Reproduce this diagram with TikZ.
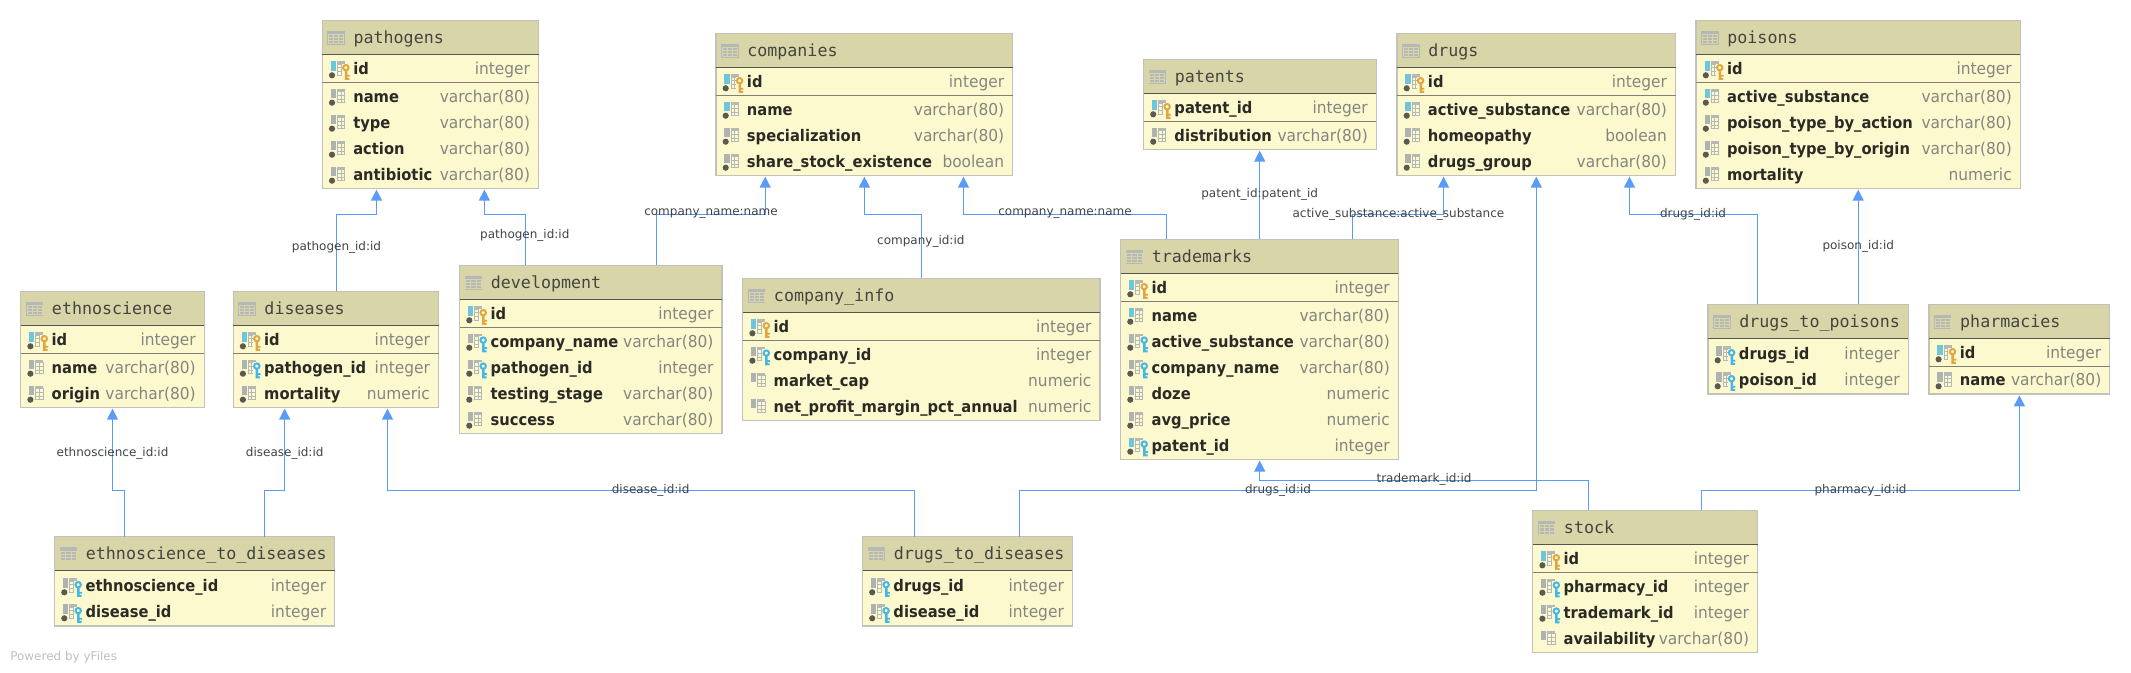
\documentclass[tikz,border=0pt]{standalone}
\usepackage{fontspec}
\setmainfont{DejaVu Sans}
\newfontfamily\titlemono{DejaVu Sans Mono}
\newfontfamily\colnamefont[FakeStretch=0.92]{DejaVu Sans}
\newfontfamily\coltypefont[FakeStretch=0.94]{DejaVu Sans}
\usetikzlibrary{arrows.meta,calc}

\definecolor{tablehead}{HTML}{D8D5A9}
\definecolor{tablebody}{HTML}{FCF9CF}
\definecolor{tableedge}{HTML}{C2C2BA}
\definecolor{headrule}{HTML}{55554F}
\definecolor{keyrule}{HTML}{808078}
\definecolor{fkblue}{HTML}{5A9BF8}
\definecolor{typegray}{HTML}{858580}
\definecolor{namedark}{HTML}{2B2B26}
\definecolor{titlegray}{HTML}{45453F}
\definecolor{labelgray}{HTML}{3F4448}
\definecolor{barcyan}{HTML}{6FC6DC}
\definecolor{bargray}{HTML}{AEB2B0}
\definecolor{dotgray}{HTML}{5C5A50}
\definecolor{keyorange}{HTML}{E0A642}
\definecolor{keycyan}{HTML}{45B6E6}
\definecolor{gridgray}{HTML}{B4B9B8}

\newcommand{\iconbar}[1]{\fill[#1] (8.4,-8) rectangle (13.6,1.7);}
\newcommand{\icondot}{\fill[dotgray] (9.7,6) circle (3.1);}
\newcommand{\icongrid}{
	\fill[gridgray] (14.6,-8) rectangle (22.6,-5);
	\draw[gridgray,line width=.5pt] (15,-5) rectangle (22.2,6) (15,-1.5) -- (22.2,-1.5) (15,2.2) -- (22.2,2.2) (18.6,-5) -- (18.6,6);
}
\newcommand{\iconkey}[1]{
	\fill[tablebody] (19.5,-5.5) rectangle (28,11);
	\draw[#1,line width=1.5pt] (23.6,-1.6) circle (2.7);
	\fill[#1] (22.5,1) rectangle (25,10.6) (25,5.5) rectangle (27.4,7.4) (25,8.6) rectangle (27,10.6);
}

\tikzset{
	dbbox/.style={draw=tableedge,fill=tablebody,line width=1pt,inner sep=0pt,outer sep=0pt,anchor=north west},
	dbhead/.style={draw=tableedge,fill=tablehead,line width=1pt,inner sep=0pt,outer sep=0pt,anchor=north west,minimum height=25.5pt},
	dbtitle/.style={anchor=base west,inner sep=0pt,text=titlegray,font=\titlemono\fontsize{12.5}{14}\selectfont},
	dbname/.style={anchor=base west,inner sep=0pt,text=namedark,font=\colnamefont\bfseries\fontsize{12}{14}\selectfont},
	dbtype/.style={anchor=base east,inner sep=0pt,text=typegray,font=\coltypefont\fontsize{12.3}{14}\selectfont},
	fk/.style={->,draw=fkblue,line width=1pt,shorten >=1pt},
	fklabel/.style={inner sep=0pt,text=labelgray,font=\fontsize{9}{11}\selectfont},
	pics/headicon/.style={code={
		\fill[gridgray] (0,0) rectangle (17.5,14.3);
		\draw[tablehead,line width=.6pt] (1.2,4) rectangle (16.3,13.2) (1.2,7.1) -- (16.3,7.1) (1.2,10.2) -- (16.3,10.2) (6.2,4) -- (6.2,13.2) (11.3,4) -- (11.3,13.2);
	}},
	pics/colicon/.style={code={\iconbar{bargray}\icongrid\icondot}},
	pics/nullicon/.style={code={\iconbar{bargray}\icongrid}},
	pics/idxicon/.style={code={\iconbar{barcyan}\icongrid\icondot}},
	pics/pkicon/.style={code={\iconbar{barcyan}\icongrid\iconkey{keyorange}\icondot}},
	pics/fkicon/.style={code={\iconbar{bargray}\icongrid\iconkey{keycyan}\icondot}},
	pics/idxfkicon/.style={code={\iconbar{barcyan}\icongrid\iconkey{keycyan}\icondot}}
}

\newcommand{\dbtable}[6]{
	\node[dbbox,minimum width=#4*0.75pt,minimum height=#5*0.75pt] (#1) at (#2,#3) {};
	\node[dbhead,minimum width=#4*0.75pt] (#1head) at (#1.north west) {};
	\draw[headrule,line width=1pt] (#1head.south west) -- (#1head.south east);
	\pic at ($(#1.north west)+(5,10.4)$) {headicon};
	\node[dbtitle] (#1title) at ($(#1.north west)+(31,23)$) {#6};
}
\newcommand{\dbrule}[1]{\draw[keyrule,line width=1pt] ($(#1.north west)+(0,62)$) -- ($(#1.north east)+(0,62)$);}
\newcommand{\dbcol}[6]{
	\pic at ($(#1.north west)+(0,#3)$) {#4};
	\node[dbname] (#1#2) at ($(#1.north west)+(30.7,#3+5.5)$) {#5};
	\node[dbtype] (#1#2type) at ($(#1.north east)+(-8.3,#3+5.5)$) {#6};
}

\begin{document}
\begin{tikzpicture}[x=0.75pt,y=-0.75pt,>={Triangle[length=8.2pt,width=8.2pt]}]
\useasboundingbox (0,0) rectangle (2131,673);

\dbtable{pathogens}{322.3}{20.3}{216.3}{168}{pathogens}
\dbcol{pathogens}{id}{49}{pkicon}{id}{integer}
\dbrule{pathogens}
\dbcol{pathogens}{name}{76.4}{colicon}{name}{varchar(80)}
\dbcol{pathogens}{type}{102.4}{colicon}{type}{varchar(80)}
\dbcol{pathogens}{action}{128.4}{colicon}{action}{varchar(80)}
\dbcol{pathogens}{antibiotic}{154.4}{colicon}{antibiotic}{varchar(80)}

\dbtable{companies}{716}{33.3}{296.7}{142}{companies}
\dbcol{companies}{id}{49}{pkicon}{id}{integer}
\dbrule{companies}
\dbcol{companies}{name}{76.4}{idxicon}{name}{varchar(80)}
\dbcol{companies}{spec}{102.4}{colicon}{specialization}{varchar(80)}
\dbcol{companies}{share}{128.4}{colicon}{share\_stock\_existence}{boolean}

\dbtable{patents}{1143.5}{59.3}{232.8}{90}{patents}
\dbcol{patents}{id}{49}{pkicon}{patent\_id}{integer}
\dbrule{patents}
\dbcol{patents}{dist}{76.4}{colicon}{distribution}{varchar(80)}

\dbtable{drugs}{1397}{33.3}{278.5}{142}{drugs}
\dbcol{drugs}{id}{49}{pkicon}{id}{integer}
\dbrule{drugs}
\dbcol{drugs}{subst}{76.4}{idxicon}{active\_substance}{varchar(80)}
\dbcol{drugs}{homeo}{102.4}{colicon}{homeopathy}{boolean}
\dbcol{drugs}{group}{128.4}{colicon}{drugs\_group}{varchar(80)}

\dbtable{poisons}{1696.1}{20.3}{324.2}{168}{poisons}
\dbcol{poisons}{id}{49}{pkicon}{id}{integer}
\dbrule{poisons}
\dbcol{poisons}{subst}{76.4}{idxicon}{active\_substance}{varchar(80)}
\dbcol{poisons}{action}{102.4}{colicon}{poison\_type\_by\_action}{varchar(80)}
\dbcol{poisons}{origin}{128.4}{colicon}{poison\_type\_by\_origin}{varchar(80)}
\dbcol{poisons}{mort}{154.4}{colicon}{mortality}{numeric}

\dbtable{ethnoscience}{20.7}{291.3}{183.6}{116}{ethnoscience}
\dbcol{ethnoscience}{id}{49}{pkicon}{id}{integer}
\dbrule{ethnoscience}
\dbcol{ethnoscience}{name}{76.4}{colicon}{name}{varchar(80)}
\dbcol{ethnoscience}{origin}{102.4}{colicon}{origin}{varchar(80)}

\dbtable{diseases}{233.2}{291.3}{205.3}{116}{diseases}
\dbcol{diseases}{id}{49}{pkicon}{id}{integer}
\dbrule{diseases}
\dbcol{diseases}{pathogen}{76.4}{fkicon}{pathogen\_id}{integer}
\dbcol{diseases}{mort}{102.4}{colicon}{mortality}{numeric}

\dbtable{development}{459.6}{265.3}{262.4}{168}{development}
\dbcol{development}{id}{49}{pkicon}{id}{integer}
\dbrule{development}
\dbcol{development}{company}{76.4}{fkicon}{company\_name}{varchar(80)}
\dbcol{development}{pathogen}{102.4}{fkicon}{pathogen\_id}{integer}
\dbcol{development}{stage}{128.4}{colicon}{testing\_stage}{varchar(80)}
\dbcol{development}{success}{154.4}{colicon}{success}{varchar(80)}

\dbtable{companyinfo}{742.7}{278.3}{357.2}{142}{company\_info}
\dbcol{companyinfo}{id}{49}{pkicon}{id}{integer}
\dbrule{companyinfo}
\dbcol{companyinfo}{company}{76.4}{fkicon}{company\_id}{integer}
\dbcol{companyinfo}{cap}{102.4}{nullicon}{market\_cap}{numeric}
\dbcol{companyinfo}{margin}{128.4}{nullicon}{net\_profit\_margin\_pct\_annual}{numeric}

\dbtable{trademarks}{1120.6}{239.3}{277.7}{220}{trademarks}
\dbcol{trademarks}{id}{49}{pkicon}{id}{integer}
\dbrule{trademarks}
\dbcol{trademarks}{name}{76.4}{idxicon}{name}{varchar(80)}
\dbcol{trademarks}{subst}{102.4}{fkicon}{active\_substance}{varchar(80)}
\dbcol{trademarks}{company}{128.4}{fkicon}{company\_name}{varchar(80)}
\dbcol{trademarks}{doze}{154.4}{colicon}{doze}{numeric}
\dbcol{trademarks}{price}{180.4}{colicon}{avg\_price}{numeric}
\dbcol{trademarks}{patent}{206.4}{idxfkicon}{patent\_id}{integer}

\dbtable{drugspoisons}{1708}{304.3}{200.2}{89.7}{drugs\_to\_poisons}
\dbcol{drugspoisons}{drug}{50}{fkicon}{drugs\_id}{integer}
\dbcol{drugspoisons}{poison}{76}{fkicon}{poison\_id}{integer}

\dbtable{pharmacies}{1928.9}{304.3}{180.9}{89.7}{pharmacies}
\dbcol{pharmacies}{id}{49}{pkicon}{id}{integer}
\dbrule{pharmacies}
\dbcol{pharmacies}{name}{76}{colicon}{name}{varchar(80)}

\dbtable{ethnodiseases}{54.6}{536.7}{280.1}{89.3}{ethnoscience\_to\_diseases}
\dbcol{ethnodiseases}{ethno}{49.6}{fkicon}{ethnoscience\_id}{integer}
\dbcol{ethnodiseases}{disease}{75.6}{fkicon}{disease\_id}{integer}

\dbtable{drugsdiseases}{862.5}{536.7}{209.9}{89.3}{drugs\_to\_diseases}
\dbcol{drugsdiseases}{drug}{49.6}{fkicon}{drugs\_id}{integer}
\dbcol{drugsdiseases}{disease}{75.6}{fkicon}{disease\_id}{integer}

\dbtable{stock}{1532.7}{510.3}{224.9}{142}{stock}
\dbcol{stock}{id}{49}{pkicon}{id}{integer}
\dbrule{stock}
\dbcol{stock}{pharmacy}{76.4}{fkicon}{pharmacy\_id}{integer}
\dbcol{stock}{trademark}{102.4}{fkicon}{trademark\_id}{integer}
\dbcol{stock}{avail}{128.4}{nullicon}{availability}{varchar(80)}

\draw[fk] (336.5,0 |- diseases.north) |- (376.5,214.3) -- (376.5,0 |- pathogens.south);
\draw[fk] (525.3,0 |- development.north) |- (484.4,214.3) -- (484.4,0 |- pathogens.south);
\draw[fk] (656.6,0 |- development.north) |- (765.2,214.3) -- (765.2,0 |- companies.south);
\draw[fk] (921.3,0 |- companyinfo.north) |- (864.4,214.3) -- (864.4,0 |- companies.south);
\draw[fk] (1166.5,0 |- trademarks.north) |- (963.5,214.3) -- (963.5,0 |- companies.south);
\draw[fk] (1259.7,0 |- trademarks.north) -- (1259.7,0 |- patents.south);
\draw[fk] (1352.4,0 |- trademarks.north) |- (1443.6,214.3) -- (1443.6,0 |- drugs.south);
\draw[fk] (1757.6,0 |- drugspoisons.north) |- (1629.5,214.3) -- (1629.5,0 |- drugs.south);
\draw[fk] (1858.2,0 |- drugspoisons.north) -- (1858.2,0 |- poisons.south);
\draw[fk] (1019.6,0 |- drugsdiseases.north) |- (1536.3,490.3) -- (1536.3,0 |- drugs.south);
\draw[fk] (914.4,0 |- drugsdiseases.north) |- (387.5,490.3) -- (387.5,0 |- diseases.south);
\draw[fk] (124.4,0 |- ethnodiseases.north) |- (112.5,490.3) -- (112.5,0 |- ethnoscience.south);
\draw[fk] (264.5,0 |- ethnodiseases.north) |- (284.7,490.3) -- (284.7,0 |- diseases.south);
\draw[fk] (1588.2,0 |- stock.north) |- (1259.7,480.3) -- (1259.7,0 |- trademarks.south);
\draw[fk] (1701.6,0 |- stock.north) |- (2019.4,490.3) -- (2019.4,0 |- pharmacies.south);

\node[fklabel] (l1) at (336.5,247.7) {pathogen\_id:id};
\node[fklabel] (l2) at (524.8,235) {pathogen\_id:id};
\node[fklabel] (l3) at (711,214) {company\_name:name};
\node[fklabel] (l4) at (920.8,241.7) {company\_id:id};
\node[fklabel] (l5) at (1065,214) {company\_name:name};
\node[fklabel] (l6) at (1259.7,194.7) {patent\_id:patent\_id};
\node[fklabel] (l7) at (1398.4,214) {active\_substance:active\_substance};
\node[fklabel] (l8) at (1693,214) {drugs\_id:id};
\node[fklabel] (l9) at (1858.2,246.7) {poison\_id:id};
\node[fklabel] (l10) at (1278,490) {drugs\_id:id};
\node[fklabel] (l11) at (650.6,490) {disease\_id:id};
\node[fklabel] (l12) at (112.5,453.7) {ethnoscience\_id:id};
\node[fklabel] (l13) at (284.7,453.7) {disease\_id:id};
\node[fklabel] (l14) at (1424,479.5) {trademark\_id:id};
\node[fklabel] (l15) at (1860.5,490) {pharmacy\_id:id};

\node[anchor=west,inner sep=0pt,text=black!25,font=\fontsize{9}{11}\selectfont] (poweredby) at (10,656.7) {Powered by yFiles};
\end{tikzpicture}
\end{document}
